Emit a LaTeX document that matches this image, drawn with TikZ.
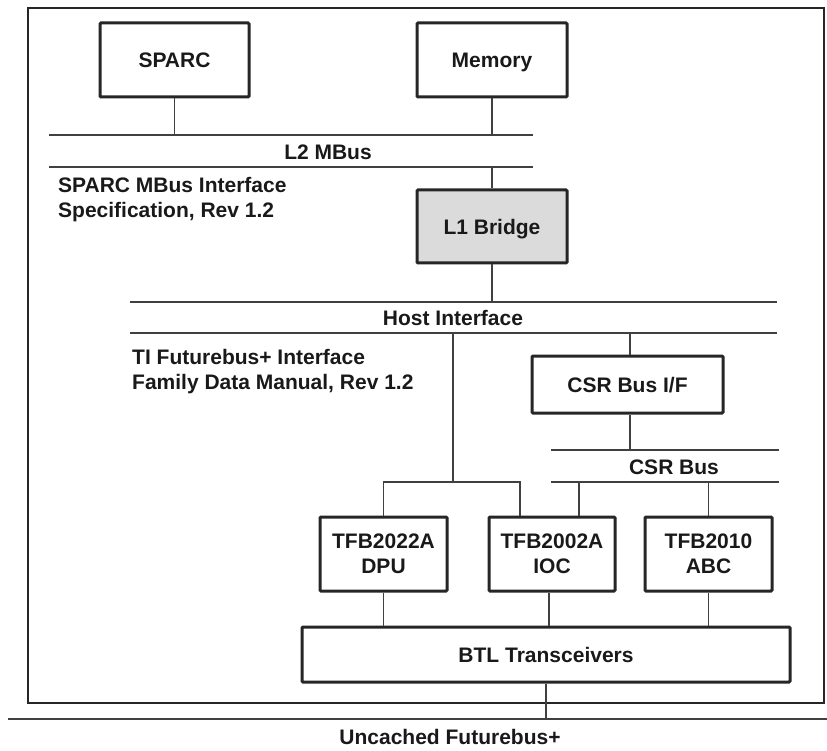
\documentclass[tikz,border=0pt]{standalone}
\usepackage{fontspec}
\setmainfont{Liberation Sans}
\begin{document}
\begin{tikzpicture}[x=1pt,y=-1pt,
  txt/.style={font=\fontsize{21}{25}\selectfont\bfseries, text=black!90},
  box/.style={txt, draw=black!85, line width=3pt, rounded corners=1pt, align=center, inner sep=0pt, text depth=0pt},
  bus/.style={line width=1.2pt, draw=black!75},
  wire/.style={line width=1.1pt, draw=black!75},
  frame/.style={line width=2.6pt, draw=black!85},
  lbl/.style={txt, inner sep=0pt}]
\useasboundingbox (0,0) rectangle (827,751);
% outer frame
\draw[frame] (28,8) rectangle (824,703);
% boxes
\node[box, minimum width=149pt, minimum height=74pt] (sparc) at (174.5,60) {SPARC};
\node[box, minimum width=150pt, minimum height=74pt] (mem) at (492,60) {Memory};
\node[box, minimum width=150pt, minimum height=73pt, fill=black!14] (l1) at (492,226.5) {L1 Bridge};
\node[box, minimum width=191pt, minimum height=57pt] (csr) at (627.5,384.5) {CSR Bus I/F};
\node[box, minimum width=127pt, minimum height=74pt] (dpu) at (383.5,554) {TFB2022A\\DPU};
\node[box, minimum width=126pt, minimum height=74pt] (ioc) at (552,554) {TFB2002A\\IOC};
\node[box, minimum width=127pt, minimum height=74pt] (abc) at (708.5,554) {TFB2010\\ABC};
\node[box, minimum width=488pt, minimum height=55pt] (btl) at (546,654.5) {BTL Transceivers};
% bus coordinates
\coordinate (l2tl) at (49,135);  \coordinate (l2tr) at (533,135);
\coordinate (l2bl) at (49,167);  \coordinate (l2br) at (533,167);
\coordinate (hitl) at (130,302); \coordinate (hitr) at (777,302);
\coordinate (hibl) at (130,333); \coordinate (hibr) at (777,333);
\coordinate (cstl) at (551,450); \coordinate (cstr) at (779,450);
\coordinate (csbl) at (551,482); \coordinate (csbr) at (779,482);
\coordinate (fbl) at (8,719);    \coordinate (fbr) at (827,719);
\coordinate (hidrop) at (453,333);
\coordinate (hijoin) at (453,482);
\coordinate (dpujoin) at (383.5,482);
\coordinate (iocjoin) at (520,482);
\coordinate (csrtap) at (630,333);
% buses
\draw[bus] (l2tl) -- (l2tr);
\draw[bus] (l2bl) -- (l2br);
\draw[bus] (hitl) -- (hitr);
\draw[bus] (hibl) -- (hibr);
\draw[bus] (cstl) -- (cstr);
\draw[bus] (csbl) -- (csbr);
\draw[bus] (fbl) -- (fbr);
% bus labels
\node[lbl] (l2lab) at (328,152) {L2 MBus};
\node[lbl] (hilab) at (453,318) {Host Interface};
\node[lbl] (cslab) at (674,467) {CSR Bus};
\node[lbl] (fblab) at (450,737) {Uncached Futurebus+};
\node[lbl, anchor=north west, align=left] (spec1) at (58,177.5) {SPARC MBus Interface\\Specification, Rev 1.2};
\node[lbl, anchor=north west, align=left] (spec2) at (132,349.5) {TI Futurebus+ Interface\\Family Data Manual, Rev 1.2};
% connectors
\draw[wire] (sparc.south) -- (sparc.south |- l2tl);
\draw[wire] (mem.south) -- (mem.south |- l2tl);
\draw[wire] (l1.north |- l2bl) -- (l1.north);
\draw[wire] (l1.south) -- (l1.south |- hitl);
\draw[wire] (csrtap) -- (csrtap |- csr.north);
\draw[wire] (csrtap |- csr.south) -- (csrtap |- cstl);
\draw[wire] (hidrop) -- (hijoin);
\draw[wire] (dpu.north) -- (dpujoin) -- (iocjoin) -- (iocjoin |- ioc.north);
\draw[wire] (579,482) -- (579,0 |- ioc.north);
\draw[wire] (abc.north |- csbl) -- (abc.north);
\draw[wire] (dpu.south) -- (dpu.south |- btl.north);
\draw[wire] (549,0 |- ioc.south) -- (549,0 |- btl.north);
\draw[wire] (abc.south) -- (abc.south |- btl.north);
\draw[wire] (btl.south) -- (btl.south |- fbl);
\end{tikzpicture}
\end{document}
